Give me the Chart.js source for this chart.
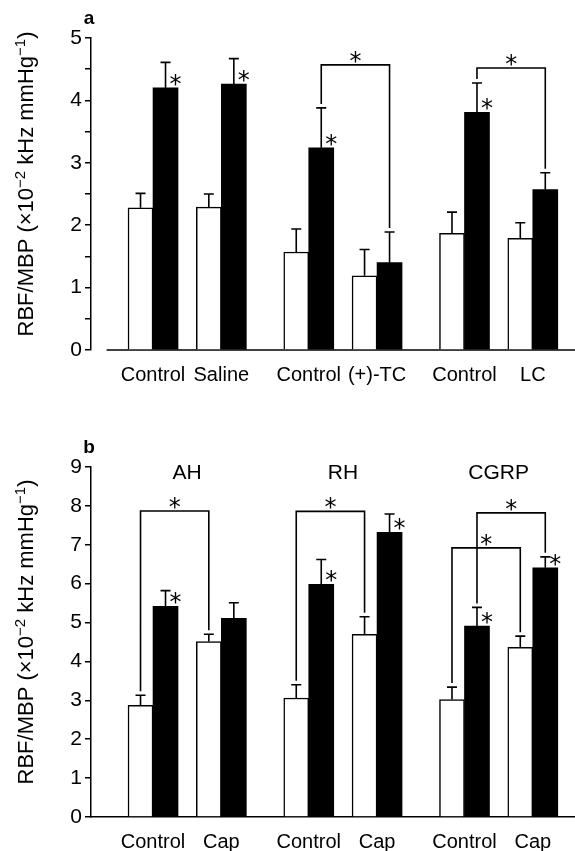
<!DOCTYPE html>
<html>
<head>
<meta charset="utf-8">
<script src="https://cdn.jsdelivr.net/npm/chart.js@4.4.0/dist/chart.umd.min.js"></script>
<style>
  body { margin: 0; background: #fff; }
  canvas { display: block; }
</style>
</head>
<body>
<canvas id="chartA" width="575" height="420"></canvas>
<canvas id="chartB" width="575" height="431"></canvas>
<script>
// panel a
const labelsA = ['Control', 'Saline', 'Control', '(+)-TC', 'Control', 'LC'];
const whiteA = [2.28, 2.29, 1.57, 1.19, 1.87, 1.79];
const whiteErrA = [0.23, 0.21, 0.37, 0.42, 0.34, 0.25];
const blackA = [4.20, 4.26, 3.24, 1.40, 3.81, 2.57];
const blackErrA = [0.41, 0.41, 0.64, 0.49, 0.47, 0.27];
const starsA = [true, true, true, false, true, false];
const bracketsA = [
  { from: [1, 2], to: [1, 3], level: 4.57 },
  { from: [1, 4], to: [1, 5], level: 4.52 }
];
const ticksA = { max: 5 };

// panel b
const groupsB = ['AH', 'RH', 'CGRP'];
const labelsB = ['Control', 'Cap', 'Control', 'Cap', 'Control', 'Cap'];
const whiteB = [2.87, 4.51, 3.06, 4.70, 3.02, 4.36];
const whiteErrB = [0.26, 0.19, 0.34, 0.45, 0.32, 0.29];
const blackB = [5.42, 5.11, 5.98, 7.32, 4.91, 6.41];
const blackErrB = [0.40, 0.40, 0.64, 0.47, 0.48, 0.28];
const starsB = [true, false, true, true, true, true];
const bracketsB = [
  { from: [0, 0], to: [0, 1], level: 7.87 },
  { from: [0, 2], to: [0, 3], level: 7.86 },
  { from: [0, 4], to: [0, 5], level: 6.92 },
  { from: [1, 4], to: [1, 5], level: 7.82 }
];
const ticksB = { max: 9 };

const yTitle = [['RBF/MBP (\u00d710', false], ['\u22122', true], [' kHz mmHg', false], ['\u22121', true], [')', false]];

const FONT = '"Liberation Sans", Arial, Helvetica, sans-serif';
const STAR_FONT = '"DejaVu Sans", sans-serif';
const STAR_SIZE = 24;
const GROUP_STEP = 2.28;
const positions = [0, 1, GROUP_STEP, GROUP_STEP + 1, 2 * GROUP_STEP, 2 * GROUP_STEP + 1];

const drawTitle = (ctx, cx, cy) => {
  const fontFor = sup => (sup ? '15px ' : '22px ') + FONT;
  let total = 0;
  yTitle.forEach(([t, sup]) => { ctx.font = fontFor(sup); total += ctx.measureText(t).width; });
  ctx.save();
  ctx.translate(cx, cy);
  ctx.rotate(-Math.PI / 2);
  ctx.textAlign = 'left';
  ctx.textBaseline = 'alphabetic';
  let x = -total / 2;
  yTitle.forEach(([t, sup]) => {
    ctx.font = fontFor(sup);
    ctx.fillText(t, x, sup ? -8 : 0);
    x += ctx.measureText(t).width;
  });
  ctx.restore();
};

const annotations = {
  id: 'annotations',
  beforeDatasetsDraw(chart, args, opts) {
    // panel a: baseline starts a little right of the y axis
    if (opts.baseFrom == null) return;
    const ctx = chart.ctx;
    const area = chart.chartArea;
    ctx.save();
    ctx.strokeStyle = '#000';
    ctx.lineWidth = 1.5;
    ctx.beginPath();
    ctx.moveTo(chart.scales.x.getPixelForValue(opts.baseFrom), area.bottom);
    ctx.lineTo(area.right, area.bottom);
    ctx.stroke();
    ctx.restore();
  },
  afterDatasetsDraw(chart, args, opts) {
    const ctx = chart.ctx;
    const yScale = chart.scales.y;
    const errTop = (d, i) => yScale.getPixelForValue(chart.data.datasets[d].data[i].y + opts.errors[d][i]);
    ctx.save();
    ctx.strokeStyle = '#000';
    ctx.fillStyle = '#000';
    ctx.lineWidth = 1.6;

    chart.data.datasets.forEach((ds, d) => {
      chart.getDatasetMeta(d).data.forEach((bar, i) => {
        const top = errTop(d, i);
        ctx.beginPath();
        ctx.moveTo(bar.x, bar.y);
        ctx.lineTo(bar.x, top);
        ctx.moveTo(bar.x - 5, top);
        ctx.lineTo(bar.x + 5, top);
        ctx.stroke();
      });
    });

    ctx.font = STAR_SIZE + 'px ' + STAR_FONT;
    ctx.textAlign = 'center';
    ctx.textBaseline = 'middle';
    const star = (x, y) => ctx.fillText('*', x, y + STAR_SIZE * 0.24);

    chart.getDatasetMeta(1).data.forEach((bar, i) => {
      if (opts.stars[i]) star(bar.x + 10, bar.y - 8);
    });

    opts.brackets.forEach(b => {
      const p1 = chart.getDatasetMeta(b.from[0]).data[b.from[1]];
      const p2 = chart.getDatasetMeta(b.to[0]).data[b.to[1]];
      const top = yScale.getPixelForValue(b.level);
      ctx.beginPath();
      ctx.moveTo(p1.x, errTop(b.from[0], b.from[1]) - 4);
      ctx.lineTo(p1.x, top);
      ctx.lineTo(p2.x, top);
      ctx.lineTo(p2.x, errTop(b.to[0], b.to[1]) - 4);
      ctx.stroke();
      star((p1.x + p2.x) / 2, top - 8);
    });
    ctx.restore();
  },
  afterDraw(chart, args, opts) {
    const ctx = chart.ctx;
    const area = chart.chartArea;
    const xScale = chart.scales.x;
    ctx.save();
    ctx.fillStyle = '#000';
    drawTitle(ctx, 33, (area.top + area.bottom) / 2 - 10);

    ctx.font = 'bold 19px ' + FONT;
    ctx.textAlign = 'center';
    ctx.textBaseline = 'middle';
    ctx.fillText(opts.panel, area.left - 2, area.top - 19);

    ctx.font = '21px ' + FONT;
    (opts.groups || []).forEach((g, k) => {
      const x = xScale.getPixelForValue((positions[2 * k] + positions[2 * k + 1]) / 2);
      ctx.fillText(g, x, area.top + 6);
    });
    ctx.restore();
  }
};

const makeChart = (id, labels, white, whiteErr, black, blackErr, stars, brackets, yOpts, groups, panel, topPad, bottomH, baseFrom) => {
  const ctx = document.getElementById(id).getContext('2d');
  return new Chart(ctx, {
    type: 'bar',
    data: {
      datasets: [{
        data: white.map((v, i) => ({ x: positions[i], y: v })),
        backgroundColor: '#fff',
        borderColor: '#000',
        borderWidth: 1.5
      }, {
        data: black.map((v, i) => ({ x: positions[i], y: v })),
        backgroundColor: '#000',
        borderWidth: 0
      }]
    },
    options: {
      responsive: false,
      animation: false,
      barThickness: 25,
      layout: { padding: { top: topPad, right: 0, left: 0, bottom: 0 } },
      plugins: {
        legend: { display: false },
        tooltip: { enabled: false },
        annotations: { errors: [whiteErr, blackErr], stars, brackets, groups, panel, baseFrom }
      },
      scales: {
        x: {
          type: 'linear',
          offset: false,
          min: -0.908,
          max: 6.178,
          grid: { display: false },
          border: { display: baseFrom == null, color: '#000', width: 1.5 },
          afterBuildTicks: s => { s.ticks = positions.map(value => ({ value })); },
          afterFit: s => { s.height = bottomH; },
          ticks: {
            autoSkip: false,
            maxRotation: 0,
            padding: 5,
            color: '#000',
            font: { family: FONT, size: 20 },
            callback: (v, i) => labels[i]
          }
        },
        y: {
          min: 0,
          max: yOpts.max,
          afterFit: s => { s.width = 91; },
          grid: { display: true, drawOnChartArea: false, drawTicks: true, tickLength: 6, color: '#000', lineWidth: 1.5 },
          border: { display: true, color: '#000', width: 1.5 },
          ticks: {
            stepSize: 0.5,
            padding: 3,
            color: '#000',
            font: { family: FONT, size: 21 },
            callback: v => (v % 1 === 0 ? v : '')
          }
        }
      }
    },
    plugins: [annotations]
  });
};

makeChart('chartA', labelsA, whiteA, whiteErrA, blackA, blackErrA, starsA, bracketsA, ticksA, null, 'a', 38, 70, -0.68);
makeChart('chartB', labelsB, whiteB, whiteErrB, blackB, blackErrB, starsB, bracketsB, ticksB, groupsB, 'b', 47, 34, null);
</script>
</body>
</html>
